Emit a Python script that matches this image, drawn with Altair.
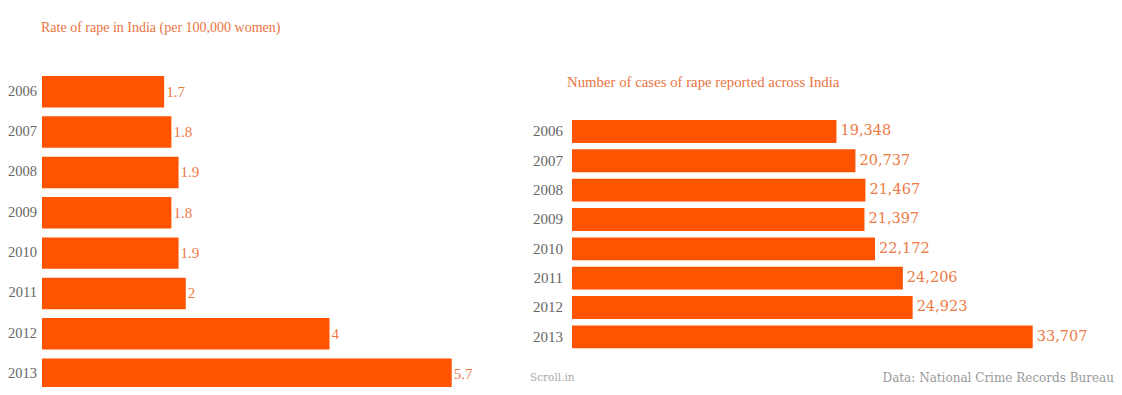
import altair as alt
import pandas as pd

years = ["2006", "2007", "2008", "2009", "2010", "2011", "2012", "2013"]
rate = [1.7, 1.8, 1.9, 1.8, 1.9, 2, 4, 5.7]
cases = [19348, 20737, 21467, 21397, 22172, 24206, 24923, 33707]

left_title = "Rate of rape in India (per 100,000 women)"
right_title = "Number of cases of rape reported across India"
source_left = "Scroll.in"
source_right = "Data: National Crime Records Bureau"

BAR = "#ff5300"
VAL = "#ee7a45"
YEAR = "#666666"
TITLE = "#e9743f"
SERIF = "Liberation Serif, DejaVu Serif"
WSERIF = "DejaVu Serif, Liberation Serif"

left = pd.DataFrame({"year": years, "rate": rate})
right = pd.DataFrame({"year": years, "cases": cases})

lx = alt.Scale(domain=[0, 5.7], range=[34, 443.7], nice=False, zero=True)
ly = alt.Scale(domain=years, range=[63.6, 386.3], paddingInner=0.22, paddingOuter=0.11)
rx = alt.Scale(domain=[0, 33707], range=[564, 1024.7], nice=False, zero=True)
ry = alt.Scale(domain=years, range=[108.8, 343.5], paddingInner=0.22, paddingOuter=0.11)

lbase = alt.Chart(left)
l_bar = lbase.mark_bar(color=BAR).encode(
    x=alt.X("rate:Q", scale=lx, axis=None),
    x2=alt.value(34),
    y=alt.Y("year:N", scale=ly, axis=None),
)
l_val = lbase.mark_text(align="left", baseline="middle", dx=2, font=SERIF, fontSize=15, color=VAL).encode(
    x=alt.X("rate:Q", scale=lx, axis=None),
    y=alt.Y("year:N", scale=ly, axis=None),
    text=alt.Text("rate:Q", format="~g"),
)
l_year = lbase.mark_text(align="right", baseline="middle", font=SERIF, fontSize=14.5, color=YEAR).encode(
    x=alt.value(29),
    y=alt.Y("year:N", scale=ly, axis=None),
    text="year:N",
)

rbase = alt.Chart(right)
r_bar = rbase.mark_bar(color=BAR).encode(
    x=alt.X("cases:Q", scale=rx, axis=None),
    x2=alt.value(564),
    y=alt.Y("year:N", scale=ry, axis=None),
)
r_val = rbase.mark_text(align="left", baseline="middle", dx=4, font=WSERIF, fontSize=14.5, color=VAL).encode(
    x=alt.X("cases:Q", scale=rx, axis=None),
    y=alt.Y("year:N", scale=ry, axis=None),
    text=alt.Text("cases:Q", format=","),
)
r_year = rbase.mark_text(align="right", baseline="middle", font=SERIF, fontSize=15, color=YEAR).encode(
    x=alt.value(555),
    y=alt.Y("year:N", scale=ry, axis=None),
    text="year:N",
)

t_left = alt.Chart(pd.DataFrame({"t": [left_title]})).mark_text(
    align="left", baseline="middle", font=SERIF, fontSize=14, color=TITLE
).encode(x=alt.value(33), y=alt.value(20), text="t:N")
t_right = alt.Chart(pd.DataFrame({"t": [right_title]})).mark_text(
    align="left", baseline="middle", font=SERIF, fontSize=14.8, color=TITLE
).encode(x=alt.value(559), y=alt.value(75), text="t:N")
f_left = alt.Chart(pd.DataFrame({"t": [source_left]})).mark_text(
    align="left", baseline="middle", font=WSERIF, fontSize=10.5, color="#aaaaaa"
).encode(x=alt.value(522), y=alt.value(370), text="t:N")
f_right = alt.Chart(pd.DataFrame({"t": [source_right]})).mark_text(
    align="right", baseline="middle", font=WSERIF, fontSize=12, color="#999999"
).encode(x=alt.value(1106), y=alt.value(370), text="t:N")

chart = alt.layer(
    l_bar, l_val, l_year, r_bar, r_val, r_year, t_left, t_right, f_left, f_right
).resolve_scale(x="independent", y="independent").properties(
    width=1106, height=379, autosize=alt.AutoSizeParams(type="none"), padding=0,
    background="white",
).configure_view(stroke=None)

chart.save("out.html", embed_options={"renderer": "svg", "actions": False})
